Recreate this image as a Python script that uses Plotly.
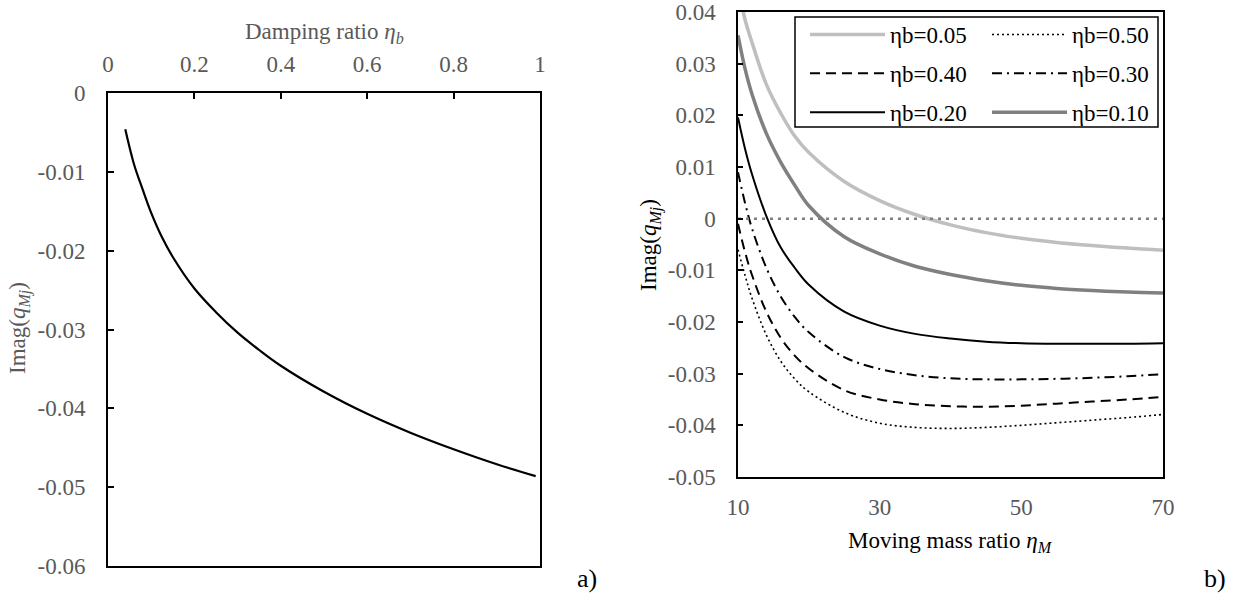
import plotly.graph_objects as go

W, H = 1245, 596

# ---------------- data: panel a) ----------------
eta_b = [0.04, 0.06, 0.08, 0.10, 0.125, 0.15, 0.20, 0.25, 0.30, 0.35, 0.40, 0.50, 0.60, 0.70, 0.80, 0.90, 0.99]
imag_a = [-0.0046, -0.0090, -0.0122, -0.0152, -0.0183, -0.0208, -0.0248, -0.0278, -0.0304, -0.0326,
          -0.0346, -0.0379, -0.0407, -0.0431, -0.0452, -0.0471, -0.0486]

a_xticks = [0, 0.2, 0.4, 0.6, 0.8, 1]
a_xticktext = ["0", "0.2", "0.4", "0.6", "0.8", "1"]
a_yticks = [0, -0.01, -0.02, -0.03, -0.04, -0.05, -0.06]
a_yticktext = ["0", "-0.01", "-0.02", "-0.03", "-0.04", "-0.05", "-0.06"]

# ---------------- data: panel b) ----------------
eta_M = [10, 11, 12, 14, 16, 18, 20, 25, 30, 35, 40, 45, 50, 55, 60, 65, 70]
b005 = [0.0449, 0.0385, 0.0340, 0.0260, 0.0205, 0.0160, 0.0128, 0.0072, 0.0035, 0.0008,
        -0.0012, -0.0027, -0.0038, -0.0046, -0.0052, -0.0057, -0.0061]
b010 = [0.0355, 0.0290, 0.0240, 0.0165, 0.0110, 0.0065, 0.0025, -0.0035, -0.0068, -0.0092,
        -0.0108, -0.0120, -0.0129, -0.0135, -0.0139, -0.0142, -0.0144]
b020 = [0.0196, 0.0135, 0.0085, 0.0005, -0.0055, -0.0095, -0.0128, -0.0180, -0.0207, -0.0223,
        -0.0232, -0.0238, -0.0241, -0.0242, -0.0242, -0.0242, -0.0241]
b030 = [0.0090, 0.0030, -0.0020, -0.0095, -0.0150, -0.0190, -0.0220, -0.0268, -0.0291, -0.0303,
        -0.0309, -0.0311, -0.0311, -0.0310, -0.0308, -0.0305, -0.0301]
b040 = [-0.0010, -0.0065, -0.0110, -0.0180, -0.0230, -0.0265, -0.0290, -0.0332, -0.0350, -0.0359,
        -0.0363, -0.0364, -0.0362, -0.0358, -0.0354, -0.0350, -0.0345]
b050 = [-0.0060, -0.0110, -0.0155, -0.0225, -0.0275, -0.0310, -0.0335, -0.0375, -0.0396, -0.0404,
        -0.0406, -0.0404, -0.0400, -0.0395, -0.0390, -0.0385, -0.0379]
zero_x = [10, 70]
zero_y = [0, 0]

b_xticks = [10, 30, 50, 70]
b_xticktext = ["10", "30", "50", "70"]
b_yticks = [0.04, 0.03, 0.02, 0.01, 0, -0.01, -0.02, -0.03, -0.04, -0.05]
b_yticktext = ["0.04", "0.03", "0.02", "0.01", "0", "-0.01", "-0.02", "-0.03", "-0.04", "-0.05"]

FONT = "Liberation Serif"
GRAY = "#595959"
FS = 23

fig = go.Figure()

fig.add_trace(go.Scatter(x=eta_b, y=imag_a, mode="lines", line=dict(color="black", width=2.2, shape="spline"),
                         xaxis="x", yaxis="y", showlegend=False, hoverinfo="skip"))

series = [
    ("ηb=0.05", b005, dict(color="#BFBFBF", width=3.5), "legend"),
    ("ηb=0.50", b050, dict(color="black", width=1.6, dash="2px,3px"), "legend2"),
    ("ηb=0.40", b040, dict(color="black", width=2, dash="10px,6px"), "legend"),
    ("ηb=0.30", b030, dict(color="black", width=2, dash="10px,5px,2px,5px"), "legend2"),
    ("ηb=0.20", b020, dict(color="black", width=2), "legend"),
    ("ηb=0.10", b010, dict(color="#808080", width=3.5), "legend2"),
]
for name, ys, ln, lg in series:
    ln = dict(ln, shape="spline")
    fig.add_trace(go.Scatter(x=eta_M, y=ys, mode="lines", name=name, line=ln,
                             xaxis="x2", yaxis="y2", legend=lg, legendgroup=name, hoverinfo="skip"))

fig.add_trace(go.Scatter(x=zero_x, y=zero_y, mode="lines", line=dict(color="#808080", width=2.5, dash="3px,5px"),
                         xaxis="x2", yaxis="y2", showlegend=False, hoverinfo="skip"))

tickfont = dict(family=FONT, size=FS, color=GRAY)
common = dict(showgrid=False, zeroline=False, automargin=False, tickfont=tickfont,
              showline=True, linecolor="black", mirror=True, tickcolor="black")
legfont = dict(family=FONT, size=FS, color="black")

fig.update_layout(
    template="none",
    width=W, height=H,
    margin=dict(l=0, r=0, t=0, b=0, autoexpand=False),
    paper_bgcolor="white", plot_bgcolor="white",
    font=dict(family=FONT, size=FS, color="black"),
    xaxis=dict(domain=[108 / W, 540 / W], anchor="y", side="top", range=[0, 1],
               tickvals=a_xticks, ticktext=a_xticktext, ticks="inside", ticklen=6, tickwidth=2,
               linewidth=2, ticklabelstandoff=10, **common),
    yaxis=dict(domain=[1 - 566 / H, 1 - 93 / H], anchor="x", range=[-0.06, 0],
               tickvals=a_yticks, ticktext=a_yticktext, ticks="inside", ticklen=6, tickwidth=2,
               linewidth=2, ticklabelstandoff=16, **common),
    xaxis2=dict(domain=[738 / W, 1163 / W], anchor="y2", range=[10, 70],
                tickvals=b_xticks, ticktext=b_xticktext, ticks="",
                linewidth=1.5, ticklabelstandoff=9, **common),
    yaxis2=dict(domain=[1 - 477 / H, 1 - 12 / H], anchor="x2", range=[-0.05, 0.04],
                tickvals=b_yticks, ticktext=b_yticktext, ticks="inside", ticklen=5, tickwidth=1.5,
                linewidth=1.5, ticklabelstandoff=16, **common),
    legend=dict(x=805 / W, y=1 - 13 / H, xanchor="left", yanchor="top", bgcolor="rgba(0,0,0,0)",
                borderwidth=0, itemwidth=75, tracegroupgap=6, font=legfont),
    legend2=dict(x=987 / W, y=1 - 13 / H, xanchor="left", yanchor="top", bgcolor="rgba(0,0,0,0)",
                 borderwidth=0, itemwidth=75, tracegroupgap=6, font=legfont),
    shapes=[dict(type="rect", xref="paper", yref="paper", x0=795 / W, x1=1158 / W,
                 y0=1 - 127 / H, y1=1 - 17 / H, line=dict(color="black", width=1.5))],
    annotations=[
        dict(text="Damping ratio <i>η</i><sub><i>b</i></sub>", x=324 / W, y=1 - 33 / H, xref="paper", yref="paper",
             showarrow=False, font=dict(family=FONT, size=FS, color=GRAY), xanchor="center", yanchor="middle"),
        dict(text="Imag(<i>q</i><sub><i>Mj</i></sub>)", x=19 / W, y=1 - 328 / H, xref="paper", yref="paper",
             showarrow=False, textangle=-90, font=dict(family=FONT, size=FS, color=GRAY),
             xanchor="center", yanchor="middle"),
        dict(text="Moving mass ratio <i>η</i><sub><i>M</i></sub>", x=950 / W, y=1 - 542 / H, xref="paper", yref="paper",
             showarrow=False, font=dict(family=FONT, size=FS, color="black"), xanchor="center", yanchor="middle"),
        dict(text="Imag(<i>q</i><sub><i>Mj</i></sub>)", x=650 / W, y=1 - 245 / H, xref="paper", yref="paper",
             showarrow=False, textangle=-90, font=dict(family=FONT, size=FS, color="black"),
             xanchor="center", yanchor="middle"),
        dict(text="a)", x=587 / W, y=1 - 578 / H, xref="paper", yref="paper", showarrow=False,
             font=dict(family=FONT, size=26, color="black"), xanchor="center", yanchor="middle"),
        dict(text="b)", x=1215 / W, y=1 - 578 / H, xref="paper", yref="paper", showarrow=False,
             font=dict(family=FONT, size=26, color="black"), xanchor="center", yanchor="middle"),
    ],
)

fig.write_html("out.html")
